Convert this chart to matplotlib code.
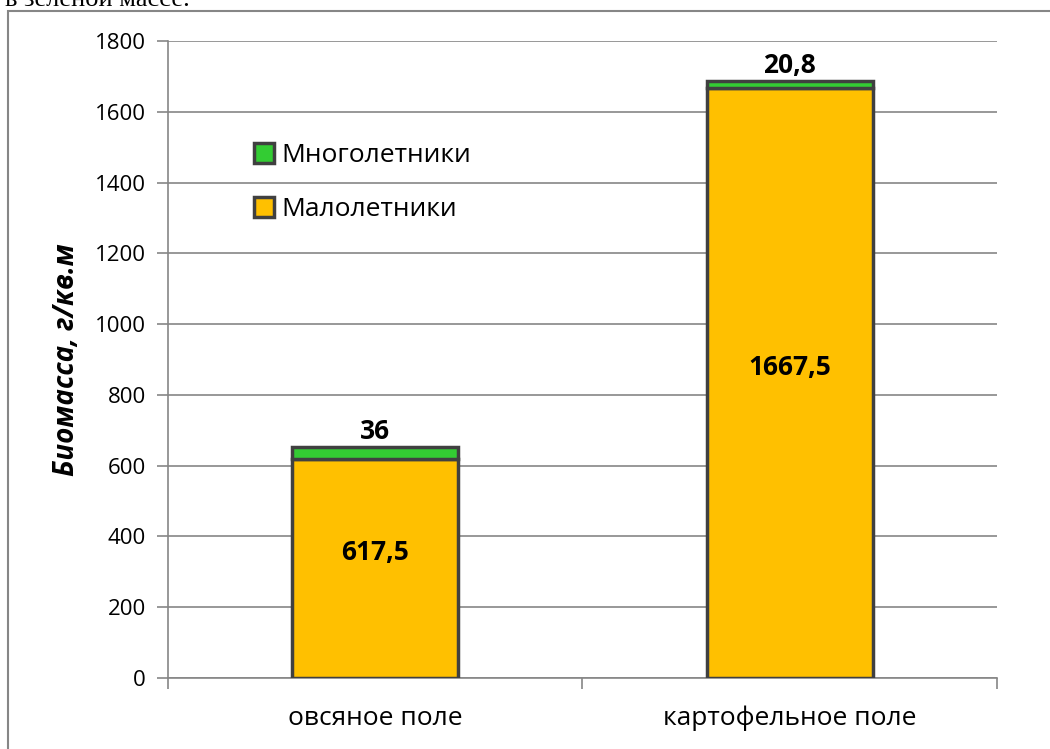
import matplotlib
matplotlib.use('Agg')
import matplotlib.pyplot as plt
from matplotlib.patches import Patch, Rectangle

categories = ["овсяное поле", "картофельное поле"]
malolet = [617.5, 1667.5]
mnogolet = [36, 20.8]
malolet_lbl = ["617,5", "1667,5"]
mnogolet_lbl = ["36", "20,8"]

YELLOW = "#FFC000"
GREEN = "#33CC33"
EDGE = "#404040"
GRID = "#868686"

plt.rcParams['font.family'] = ['Open Sans', 'DejaVu Sans']

fig = plt.figure(figsize=(10.5, 7.49), dpi=100)
ax = fig.add_axes([0.16, 0.0948, 0.7895, 0.8505])

# рамка вокруг диаграммы
fig.patches.append(Rectangle((8 / 1050, -0.01), 1.0, 1 - 11 / 749 + 0.01,
                             transform=fig.transFigure, fill=False,
                             edgecolor=GRID, linewidth=1.5))
fig.text(0.005, 1.0, "в зеленой массе.", fontsize=19, family='Liberation Serif',
         va='center', ha='left')

x = [0, 1]
ax.bar(x, malolet, width=0.4, color=YELLOW, edgecolor=EDGE, linewidth=2.5, zorder=3)
ax.bar(x, mnogolet, bottom=malolet, width=0.4, color=GREEN, edgecolor=EDGE,
       linewidth=2.5, zorder=3)

for i in range(2):
    ax.text(x[i], malolet[i] / 2 + 45, malolet_lbl[i], ha='center', va='center',
            fontsize=19, fontweight='bold')
    ax.text(x[i], malolet[i] + mnogolet[i] + 4, mnogolet_lbl[i], ha='center',
            va='bottom', fontsize=19, fontweight='bold')

ax.set_xlim(-0.5, 1.5)
ax.set_ylim(0, 1800)
ax.set_yticks(range(0, 1801, 200))
ax.yaxis.grid(True, color=GRID, linewidth=1.2, zorder=0)
ax.set_axisbelow(True)

ax.set_xticks([-0.5, 0.5, 1.5])
ax.set_xticklabels([])
ax.set_xticks(x, minor=True)
ax.set_xticklabels(categories, minor=True, fontsize=19)
ax.tick_params(axis='x', which='minor', length=0, pad=20)
ax.tick_params(axis='x', which='major', length=8, color=GRID, width=1.2)
ax.tick_params(axis='y', length=8, color=GRID, width=1.2, labelsize=16, pad=8)

for s in ['top', 'right']:
    ax.spines[s].set_visible(False)
for s in ['left', 'bottom']:
    ax.spines[s].set_color(GRID)
    ax.spines[s].set_linewidth(1.2)

ax.set_ylabel("Биомасса, г/кв.м", fontsize=20, fontweight='bold', style='italic',
              labelpad=10)

handles = [Patch(facecolor=GREEN, edgecolor=EDGE, linewidth=2.5),
           Patch(facecolor=YELLOW, edgecolor=EDGE, linewidth=2.5)]
ax.legend(handles, ["Многолетники", "Малолетники"], loc='upper left',
          bbox_to_anchor=(0.075, 0.877), frameon=False, fontsize=19,
          handlelength=0.75, handleheight=0.75, handletextpad=0.3,
          labelspacing=1.1)

plt.savefig("out.png", dpi=100)
plt.close()
